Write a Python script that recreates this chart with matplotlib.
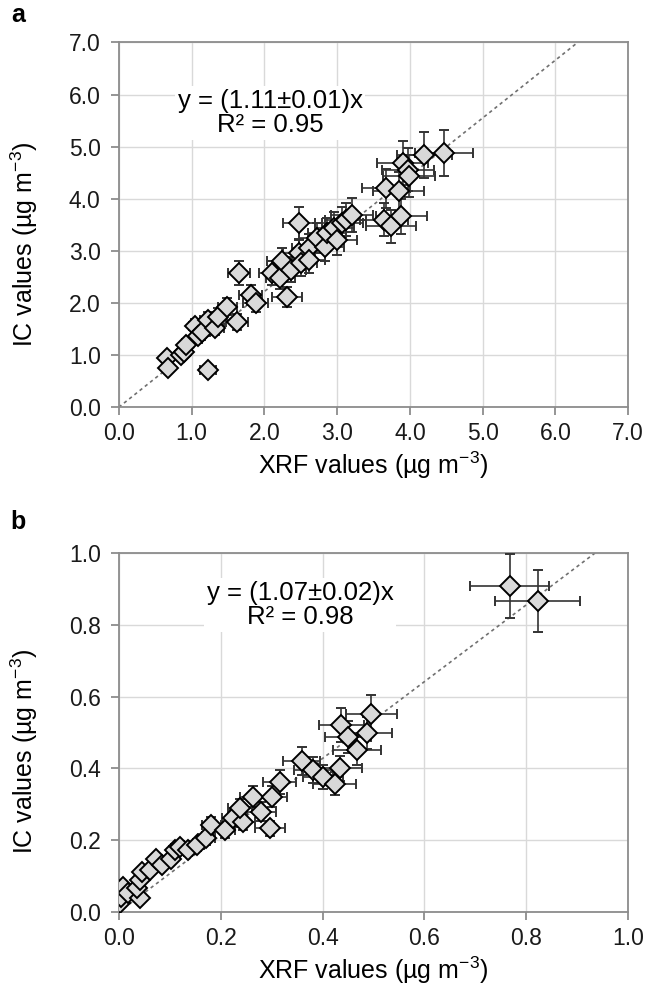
import numpy as np
import matplotlib
matplotlib.use("Agg")
import matplotlib.pyplot as plt

plt.rcParams['font.family'] = ['Liberation Sans', 'DejaVu Sans']
plt.rcParams['mathtext.fontset'] = 'custom'
plt.rcParams['mathtext.rm'] = 'Liberation Sans'
plt.rcParams['mathtext.it'] = 'Liberation Sans'

# Panel a: XRF vs IC (ug m-3)
xrf_a = [0.66, 0.68, 1.23, 0.85, 0.90, 0.93, 1.05, 1.09, 1.15, 1.23, 1.32, 1.37, 1.49, 1.62, 1.65,
         1.81, 1.88, 2.11, 2.22, 2.24, 2.31, 2.36, 2.47, 2.47, 2.50, 2.61, 2.61, 2.73, 2.84, 2.86,
         2.96, 3.00, 3.07, 3.12, 3.21, 3.65, 3.74, 3.88, 3.67, 3.85, 3.90, 3.97, 3.99, 4.20, 4.47]
ic_a = [0.94, 0.76, 0.72, 1.00, 1.05, 1.20, 1.55, 1.36, 1.45, 1.68, 1.52, 1.74, 1.93, 1.64, 2.57,
        2.16, 2.00, 2.57, 2.48, 2.80, 2.12, 2.64, 3.53, 2.96, 2.76, 3.05, 2.83, 3.24, 3.08, 3.34,
        3.44, 3.21, 3.53, 3.60, 3.69, 3.60, 3.47, 3.66, 4.20, 4.14, 4.68, 4.56, 4.43, 4.84, 4.88]
xerr_a = [0.06, 0.06, 0.11, 0.08, 0.08, 0.08, 0.09, 0.10, 0.10, 0.11, 0.12, 0.12, 0.13, 0.15, 0.15,
          0.16, 0.17, 0.19, 0.20, 0.20, 0.21, 0.21, 0.22, 0.22, 0.23, 0.23, 0.23, 0.25, 0.26, 0.26,
          0.27, 0.27, 0.28, 0.28, 0.29, 0.33, 0.34, 0.35, 0.33, 0.35, 0.35, 0.36, 0.36, 0.38, 0.40]
yerr_a = [0.08, 0.07, 0.06, 0.09, 0.09, 0.11, 0.14, 0.12, 0.13, 0.15, 0.14, 0.16, 0.17, 0.15, 0.23,
          0.19, 0.18, 0.23, 0.22, 0.25, 0.19, 0.24, 0.32, 0.27, 0.25, 0.27, 0.25, 0.29, 0.28, 0.30,
          0.31, 0.29, 0.32, 0.32, 0.33, 0.32, 0.31, 0.33, 0.38, 0.37, 0.42, 0.41, 0.40, 0.44, 0.44]

# Panel b
xrf_b = [0.002, 0.005, 0.009, 0.018, 0.041, 0.035, 0.041, 0.045, 0.061, 0.074, 0.084, 0.103, 0.110,
         0.120, 0.136, 0.153, 0.172, 0.182, 0.208, 0.225, 0.244, 0.238, 0.264, 0.280, 0.297, 0.300,
         0.316, 0.359, 0.382, 0.401, 0.424, 0.434, 0.437, 0.450, 0.467, 0.487, 0.496, 0.767, 0.822]
ic_b = [0.024, 0.043, 0.070, 0.052, 0.038, 0.066, 0.089, 0.112, 0.117, 0.149, 0.131, 0.149, 0.173,
        0.182, 0.173, 0.187, 0.205, 0.242, 0.228, 0.261, 0.252, 0.289, 0.321, 0.280, 0.233, 0.321,
        0.363, 0.421, 0.396, 0.377, 0.358, 0.400, 0.521, 0.488, 0.451, 0.498, 0.552, 0.908, 0.866]
xerr_b = [0.002, 0.002, 0.003, 0.004, 0.005, 0.005, 0.005, 0.006, 0.007, 0.008, 0.009, 0.010, 0.011,
          0.012, 0.014, 0.015, 0.017, 0.018, 0.021, 0.022, 0.024, 0.024, 0.026, 0.028, 0.030, 0.030,
          0.032, 0.036, 0.038, 0.040, 0.042, 0.043, 0.044, 0.045, 0.047, 0.049, 0.050, 0.078, 0.083]
yerr_b = [0.003, 0.004, 0.006, 0.005, 0.004, 0.006, 0.008, 0.010, 0.011, 0.013, 0.012, 0.013, 0.016,
          0.017, 0.016, 0.017, 0.019, 0.022, 0.021, 0.024, 0.023, 0.026, 0.029, 0.026, 0.022, 0.029,
          0.033, 0.038, 0.036, 0.034, 0.033, 0.036, 0.047, 0.044, 0.041, 0.045, 0.053, 0.090, 0.087]

slopes = [1.11, 1.07]
fit_labels = ["y = (1.11±0.01)x\nR² = 0.95", "y = (1.07±0.02)x\nR² = 0.98"]
panel_letters = ["a", "b"]
ticks_a = [0.0, 1.0, 2.0, 3.0, 4.0, 5.0, 6.0, 7.0]
ticks_b = [0.0, 0.2, 0.4, 0.6, 0.8, 1.0]

FRAME = '#8c8c8c'


def draw_panel(ax, x, y, xe, ye, slope, ticks, label, text_pos):
    top = ticks[-1]
    ax.set_xlim(0, top)
    ax.set_ylim(0, top)
    ax.set_xticks(ticks)
    ax.set_yticks(ticks)
    ax.set_xticklabels([f"{t:.1f}" for t in ticks])
    ax.set_yticklabels([f"{t:.1f}" for t in ticks])
    ax.grid(True, color='#d9d9d9', lw=1.0)
    ax.set_axisbelow(True)
    for s in ax.spines.values():
        s.set_color(FRAME)
        s.set_linewidth(1.3)
    ax.tick_params(axis='both', colors=FRAME, length=6, width=1.3, labelsize=16.5, labelcolor='#1a1a1a')
    ax.tick_params(axis='x', pad=5)
    ax.tick_params(axis='y', pad=7)

    # fitted line through origin
    xs = np.linspace(0, top / slope, 50)
    ax.plot(xs, slope * xs, ls=(0, (2, 2)), color='#707070', lw=1.2, zorder=2)

    ax.errorbar(x, y, xerr=xe, yerr=ye, fmt='D', ms=10, mfc='#d9d9d9', mec='black', mew=1.4,
                ecolor='#333333', elinewidth=1.2, capsize=3.5, capthick=1.2, zorder=3)

    ax.text(text_pos[0], text_pos[1], label, ha='center', va='center', fontsize=18.5,
            multialignment='center', linespacing=1.0, zorder=4,
            bbox=dict(facecolor='white', edgecolor='none', pad=2))

    ax.set_xlabel("XRF values (µg m$^{-3}$)", fontsize=18, labelpad=3)
    ax.set_ylabel("IC values (µg m$^{-3}$)", fontsize=18)
    ax.yaxis.set_label_coords(-0.155, 0.447)


fig = plt.figure(figsize=(6.49, 9.86), dpi=100)
ax_a = fig.add_axes([0.183, 0.587, 0.785, 0.370])
ax_b = fig.add_axes([0.183, 0.075, 0.785, 0.364])

draw_panel(ax_a, xrf_a, ic_a, xerr_a, yerr_a, slopes[0], ticks_a, fit_labels[0], (2.08, 5.65))
draw_panel(ax_b, xrf_b, ic_b, xerr_b, yerr_b, slopes[1], ticks_b, fit_labels[1], (0.356, 0.855))

fig.text(18 / 649, 1 - 15 / 986, panel_letters[0], fontsize=18, fontweight='bold', ha='center', va='center')
fig.text(18 / 649, 1 - 522 / 986, panel_letters[1], fontsize=18, fontweight='bold', ha='center', va='center')

fig.savefig("out.png", dpi=100)
